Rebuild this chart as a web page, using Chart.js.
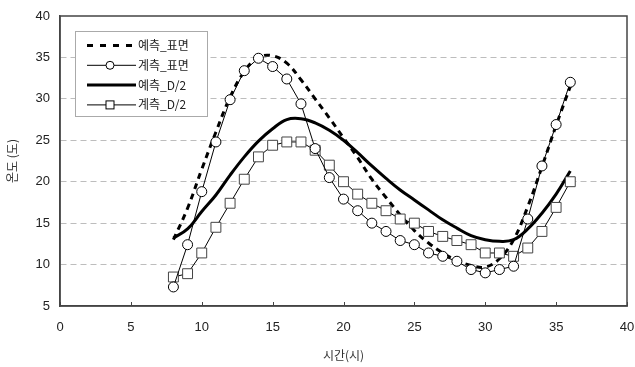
<!DOCTYPE html>
<html>
<head>
<meta charset="utf-8">
<script src="https://cdn.jsdelivr.net/npm/chart.js@4.4.1/dist/chart.umd.min.js"></script>
<style>
html, body { margin: 0; padding: 0; background: #fff; }
</style>
</head>
<body>
<canvas id="chart" width="635" height="367"></canvas>
<script>
// 시간 (시)
const hours = [8, 9, 10, 11, 12, 13, 14, 15, 16, 17, 18, 19, 20, 21, 22,
  23, 24, 25, 26, 27, 28, 29, 30, 31, 32, 33, 34, 35, 36];

// 예측_표면
const predSurface = [13.0, 16.8, 21.5, 26.0, 30.2, 33.3, 35.0, 35.2, 34.3, 32.3, 30.0,
  27.7, 25.3, 22.9, 20.3, 18.1, 16.0, 14.1, 12.6, 11.4, 10.5, 9.9, 9.7, 10.7, 13.0,
  17.0, 21.8, 26.8, 31.5];

// 계측_표면
const measSurface = [7.3, 12.4, 18.8, 24.8, 29.9, 33.4, 34.9, 33.9, 32.4, 29.4, 24.0,
  20.5, 17.9, 16.5, 15.0, 14.0, 12.9, 12.4, 11.4, 11.0, 10.4, 9.4, 9.0, 9.4, 9.8,
  15.5, 21.9, 26.9, 32.0];

// 예측_D/2
const predHalf = [13.2, 14.3, 16.4, 18.4, 20.8, 23.0, 24.9, 26.4, 27.5, 27.6, 27.1,
  26.2, 25.0, 23.5, 21.9, 20.4, 19.0, 17.8, 16.6, 15.4, 14.4, 13.5, 13.0, 12.8, 13.0,
  14.3, 16.2, 18.5, 21.3];

// 계측_D/2
const measHalf = [8.5, 8.9, 11.4, 14.5, 17.4, 20.3, 23.0, 24.4, 24.8, 24.8, 23.8,
  22.0, 20.0, 18.5, 17.4, 16.5, 15.5, 15.0, 14.0, 13.4, 12.9, 12.4, 11.4, 11.4, 11.0,
  12.0, 14.0, 16.9, 20.0];

const xTicks = [0, 5, 10, 15, 20, 25, 30, 35, 40];
const yTicks = [5, 10, 15, 20, 25, 30, 35, 40];

const legendLabels = ['예측_표면', '계측_표면', '예측_D/2', '계측_D/2'];

function toPoints(ys) {
  return hours.map((h, i) => ({ x: h, y: ys[i] }));
}

// 범례 + 테두리 + 안쪽 눈금
const framePlugin = {
  id: 'framePlugin',
  beforeDatasetsDraw(chart) {
    const ctx = chart.ctx;
    const a = chart.chartArea;
    const xs = chart.scales.x;
    ctx.save();
    ctx.strokeStyle = '#444';
    ctx.lineWidth = 1;
    xTicks.forEach(v => {
      const px = Math.round(xs.getPixelForValue(v)) + 0.5;
      ctx.beginPath();
      ctx.moveTo(px, a.bottom);
      ctx.lineTo(px, a.bottom - 4);
      ctx.stroke();
    });
    ctx.restore();
  },
  afterDatasetsDraw(chart) {
    const ctx = chart.ctx;
    const a = chart.chartArea;
    ctx.save();
    // 외곽선
    ctx.strokeStyle = '#444';
    ctx.lineWidth = 1.5;
    ctx.strokeRect(a.left, a.top, a.right - a.left, a.bottom - a.top);

    // 범례
    ctx.fillStyle = '#fff';
    ctx.fillRect(75.5, 31.5, 132, 85);
    ctx.strokeStyle = '#aaa';
    ctx.lineWidth = 1;
    ctx.strokeRect(75.5, 31.5, 132, 85);

    const x0 = 87, x1 = 136, xm = 110;
    legendLabels.forEach((label, i) => {
      const y = 45.5 + i * 19.8;
      ctx.strokeStyle = '#000';
      ctx.setLineDash([]);
      if (i === 0) {
        ctx.lineWidth = 3;
        ctx.setLineDash([6, 7]);
      } else if (i === 2) {
        ctx.lineWidth = 3;
      } else {
        ctx.lineWidth = 1;
      }
      ctx.beginPath();
      ctx.moveTo(x0, y);
      ctx.lineTo(x1, y);
      ctx.stroke();
      ctx.setLineDash([]);
      ctx.lineWidth = 1;
      if (i === 1) {
        ctx.beginPath();
        ctx.arc(xm, y, 4, 0, Math.PI * 2);
        ctx.fillStyle = '#fff';
        ctx.fill();
        ctx.stroke();
      } else if (i === 3) {
        ctx.fillStyle = '#fff';
        ctx.fillRect(xm - 4, y - 4, 8, 8);
        ctx.strokeRect(xm - 4, y - 4, 8, 8);
      }
      ctx.fillStyle = '#222';
      ctx.font = '12px "Noto Sans CJK KR", sans-serif';
      ctx.textBaseline = 'middle';
      ctx.textAlign = 'left';
      ctx.fillText(label, 138, y);
    });
    ctx.restore();
  }
};

new Chart(document.getElementById('chart'), {
  type: 'line',
  data: {
    datasets: [
      {
        label: legendLabels[0],
        data: toPoints(predSurface),
        borderColor: '#000',
        borderWidth: 3,
        borderDash: [6, 5],
        pointRadius: 0,
        tension: 0.4,
        order: 2
      },
      {
        label: legendLabels[1],
        data: toPoints(measSurface),
        borderColor: '#000',
        borderWidth: 1,
        pointStyle: 'circle',
        pointRadius: 5,
        pointBackgroundColor: '#fff',
        pointBorderColor: '#000',
        pointBorderWidth: 1,
        tension: 0,
        order: 0
      },
      {
        label: legendLabels[2],
        data: toPoints(predHalf),
        borderColor: '#000',
        borderWidth: 3,
        pointRadius: 0,
        tension: 0.4,
        order: 2
      },
      {
        label: legendLabels[3],
        data: toPoints(measHalf),
        borderColor: '#000',
        borderWidth: 1,
        pointStyle: 'rect',
        pointRadius: 7,
        pointBackgroundColor: '#fff',
        pointBorderColor: '#444',
        pointBorderWidth: 1,
        tension: 0,
        order: 1
      }
    ]
  },
  options: {
    responsive: false,
    animation: false,
    layout: { padding: { top: 16, right: 6, left: 0, bottom: 0 } },
    plugins: {
      legend: { display: false },
      tooltip: { enabled: false }
    },
    scales: {
      x: {
        type: 'linear',
        min: 0,
        max: 40,
        afterBuildTicks: axis => { axis.ticks = xTicks.map(v => ({ value: v })); },
        afterFit: axis => {
          axis.height = 61;
          axis.paddingLeft = 0;
          axis.paddingRight = 0;
        },
        grid: { display: false, drawTicks: false },
        border: { display: true, color: '#444', width: 1.5 },
        ticks: {
          padding: 14,
          color: '#222',
          font: { family: '"Liberation Sans", Arial, sans-serif', size: 13 }
        },
        title: {
          display: true,
          text: '시간(시)',
          color: '#333',
          padding: { top: 6 },
          font: { family: '"Noto Sans CJK KR", sans-serif', size: 12 }
        }
      },
      y: {
        type: 'linear',
        min: 5,
        max: 40,
        afterBuildTicks: axis => { axis.ticks = yTicks.map(v => ({ value: v })); },
        afterFit: axis => {
          axis.width = 60;
          axis.paddingTop = 0;
          axis.paddingBottom = 0;
        },
        grid: {
          drawTicks: false,
          color: c => (c.tick && (c.tick.value === 5 || c.tick.value === 40)) ? 'rgba(0,0,0,0)' : '#bdbdbd',
          lineWidth: 1
        },
        border: { display: true, color: '#444', width: 1.5, dash: [6, 4] },
        ticks: {
          padding: 10,
          color: '#222',
          font: { family: '"Liberation Sans", Arial, sans-serif', size: 13 }
        },
        title: {
          display: true,
          text: '온도 (도)',
          color: '#333',
          padding: { top: 5, bottom: 4 },
          font: { family: '"Noto Sans CJK KR", sans-serif', size: 12 }
        }
      }
    }
  },
  plugins: [framePlugin]
});
</script>
</body>
</html>
